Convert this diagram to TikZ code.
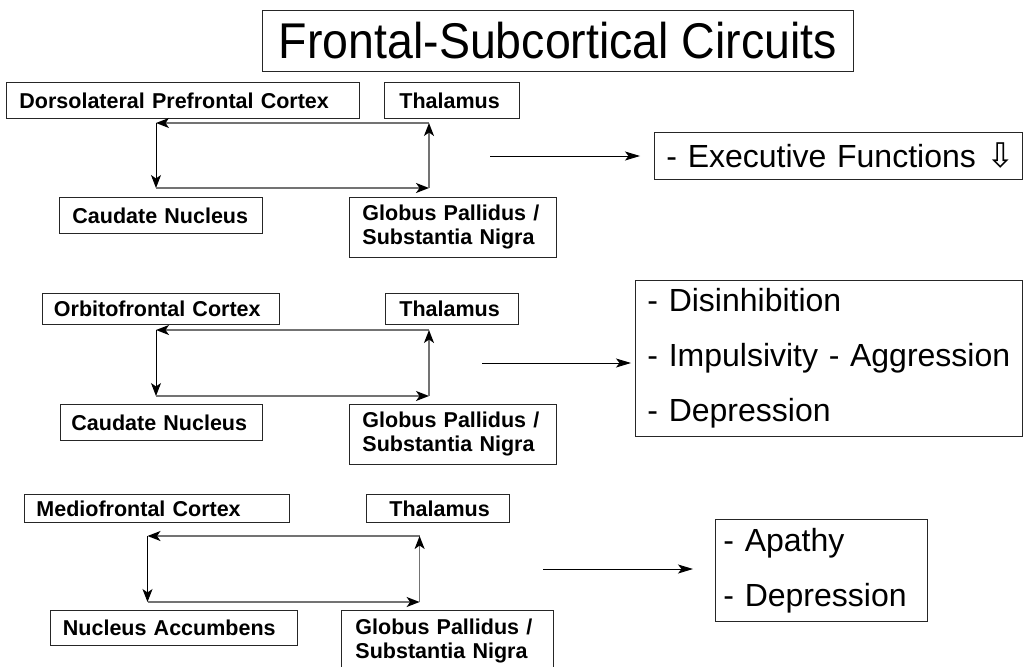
\documentclass[tikz,border=0pt]{standalone}
\usepackage{fontspec}
\setmainfont{Liberation Sans}
\newfontfamily\symfont{DejaVu Sans}
\usetikzlibrary{arrows.meta}
\tikzset{
  box/.style={draw=black!85, line width=0.9pt, rectangle, anchor=north west, inner ysep=0pt, align=left},
  lbl/.style={box, font=\bfseries\fontsize{21.5}{24}\selectfont},
  big/.style={box, font=\fontsize{32}{55}\selectfont},
  loopline/.style={draw=black!55, line width=1.4pt, -{Stealth[length=13pt,width=10pt,inset=3.5pt,color=black]}},
  loopleft/.style={draw=black, line width=0.9pt, -{Stealth[length=13pt,width=10pt,inset=3.5pt,color=black]}},
  outarrow/.style={draw=black, line width=0.9pt, -{Stealth[length=15pt,width=9pt,inset=3.5pt]}}
}
\begin{document}
\begin{tikzpicture}[x=1pt,y=-1pt]
\clip (0,0) rectangle (1024,666);
\fill[white] (0,0) rectangle (1024,666);

% title
\node[box, align=center, inner xsep=0pt, minimum width=591pt, minimum height=61pt,
      font=\fontsize{46.5}{50}\selectfont] (title) at (262,10) {\scalebox{1}[1.08]{Frontal-Subcortical Circuits}};

% ---------- circuit 1
\node[lbl, inner xsep=13pt, text width=327pt, minimum height=36pt] (dl) at (6,82) {\mbox{Dorsolateral Prefrontal Cortex}};
\node[lbl, inner xsep=15pt, text width=105pt, minimum height=36pt] (th1) at (384,82) {\mbox{Thalamus}};
\node[lbl, inner xsep=13pt, text width=177pt, minimum height=36pt] (cn1) at (59,197) {\mbox{Caudate Nucleus}};
\node[lbl, inner xsep=13pt, text width=181pt, minimum height=60pt] (gp1) at (349,197) {\mbox{Globus Pallidus /}\\\mbox{Substantia Nigra}};
\coordinate (l1tl) at (156,123); \coordinate (l1tr) at (429,123);
\coordinate (l1bl) at (156,188); \coordinate (l1br) at (429,188);
\draw[loopline] (l1tr) -- (l1tl);
\draw[loopleft] (l1tl) -- (l1bl);
\draw[loopline] (l1bl) -- (l1br);
\draw[loopline] (l1br) -- (l1tr);
\node[big, inner xsep=12pt, text width=344pt, minimum height=47pt] (ef) at (654,132) {\mbox{- Executive Functions {\symfont\fontsize{34}{34}\selectfont ⇩}}};
\coordinate (a1s) at (490,156);
\draw[outarrow] (a1s) -- ([xshift=-14pt]a1s -| ef.west);

% ---------- circuit 2
\node[lbl, inner xsep=11.5pt, text width=214pt, minimum height=31pt] (of) at (42,293) {\mbox{Orbitofrontal Cortex}};
\node[lbl, inner xsep=14pt, text width=105pt, minimum height=31pt] (th2) at (385,293) {\mbox{Thalamus}};
\node[lbl, inner xsep=11pt, text width=180pt, minimum height=36pt] (cn2) at (60,404) {\mbox{Caudate Nucleus}};
\node[lbl, inner xsep=13pt, text width=181pt, minimum height=60pt] (gp2) at (349,404) {\mbox{Globus Pallidus /}\\\mbox{Substantia Nigra}};
\coordinate (l2tl) at (156,330); \coordinate (l2tr) at (429,330);
\coordinate (l2bl) at (156,396); \coordinate (l2br) at (429,396);
\draw[loopline] (l2tr) -- (l2tl);
\draw[loopleft] (l2tl) -- (l2bl);
\draw[loopline] (l2bl) -- (l2br);
\draw[loopline] (l2br) -- (l2tr);
\node[big, inner xsep=12pt, text width=363pt, minimum height=156pt] (oc) at (635,280) {\mbox{- Disinhibition}\\\mbox{- Impulsivity - Aggression}\\\mbox{- Depression}};
\coordinate (a2s) at (482,363);
\draw[outarrow] (a2s) -- ([xshift=-4pt]a2s -| oc.west);

% ---------- circuit 3
\node[lbl, inner xsep=12pt, text width=241pt, minimum height=28pt] (mf) at (24,494) {\mbox{Mediofrontal Cortex}};
\node[lbl, inner xsep=23pt, text width=97pt, minimum height=28pt] (th3) at (366,494) {\mbox{Thalamus}};
\node[lbl, inner xsep=12.5pt, text width=222pt, minimum height=35pt] (na) at (50,610) {\mbox{Nucleus Accumbens}};
\node[lbl, inner xsep=14pt, text width=184pt, minimum height=62pt] (gp3) at (341,610) {\mbox{Globus Pallidus /}\\\mbox{Substantia Nigra}};
\coordinate (l3tl) at (147.5,536); \coordinate (l3tr) at (419.6,536);
\coordinate (l3bl) at (147.5,602); \coordinate (l3br) at (419.6,602);
\draw[loopline] (l3tr) -- (l3tl);
\draw[loopleft] (l3tl) -- (l3bl);
\draw[loopline] (l3bl) -- (l3br);
\draw[loopline] (l3br) -- (l3tr);
\node[big, inner xsep=8pt, text width=196pt, minimum height=102pt] (mc) at (715,519) {\mbox{- Apathy}\\\mbox{- Depression}};
\coordinate (a3s) at (543,569);
\draw[outarrow] (a3s) -- ([xshift=-22pt]a3s -| mc.west);
\end{tikzpicture}
\end{document}
